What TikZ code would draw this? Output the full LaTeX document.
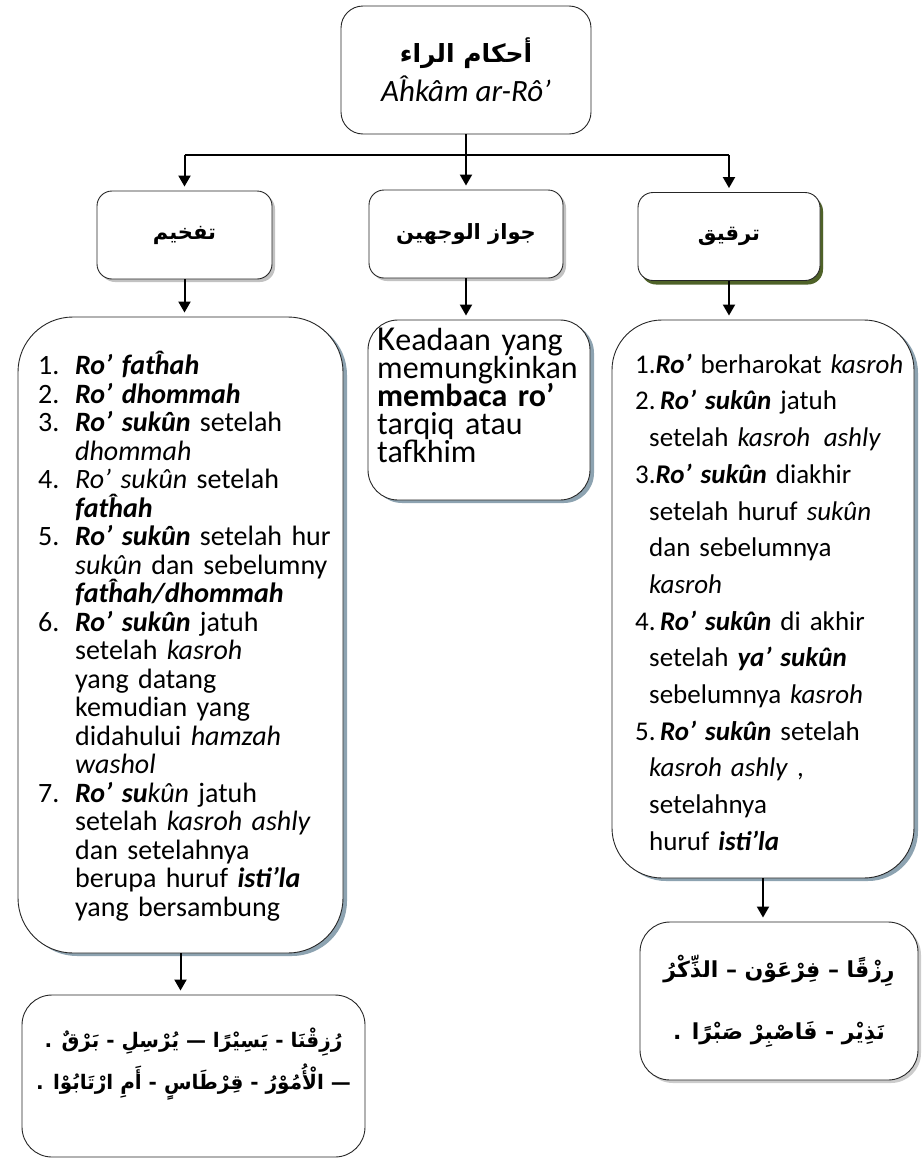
\documentclass[tikz,border=0pt]{standalone}
\usepackage{fontspec}
\setmainfont{Carlito}
\newfontfamily\arabicfont[Script=Arabic]{DejaVu Sans}
\usetikzlibrary{arrows.meta,shadows,calc}
\TeXXeTstate=1

\definecolor{slate}{HTML}{8DA3B1}
\definecolor{shadowgreen}{HTML}{4F6228}
\newcommand\arword[1]{\beginR#1\endR}
\newcommand\rosk{\textbf{\textit{Ro’ sukûn}}}
\newcommand\setfont[2]{\fontsize{#1}{#2}\selectfont\lineskiplimit=-100pt\relax}

\tikzset{
  flowbox/.style={draw=black!85, line width=0.9pt, fill=white},
  catbox/.style={flowbox, rounded corners=15pt, minimum width=#1, minimum height=88pt,
    drop shadow={shadow xshift=3pt, shadow yshift=-3pt, fill=black!40, opacity=0.6},
    font=\arabicfont\bfseries\fontsize{21}{25}\selectfont},
  listbox/.style={flowbox, drop shadow={shadow xshift=4pt, shadow yshift=-3pt, fill=slate, opacity=1}},
  listtext/.style={anchor=north west, inner sep=0pt, align=left, text width=#1},
  arabtext/.style={inner sep=0pt, align=center, font=\arabicfont\bfseries\fontsize{#1}{#1}\selectfont},
  flowarrow/.style={line width=2pt, -{Triangle[width=12pt,length=11pt]}, shorten >=4pt},
}

\begin{document}
\begin{tikzpicture}[x=1pt,y=-1pt]
\useasboundingbox (0,0) rectangle (922,1162);

% top
\node[flowbox, rounded corners=22pt, minimum width=250pt, minimum height=128pt, align=center] (title) at (466,70)
  {{\arabicfont\bfseries\fontsize{25}{30}\selectfont\beginR أحكام الراء\endR}\\[6pt]
   {\fontsize{31}{36}\selectfont\textit{Aĥkâm} \textit{ar-Rô’}}};
\coordinate (trunk) at (466,155);

% categories
\node[catbox=175pt] (tafkhim) at (184.5,235) {\arword{تفخيم}};
\node[catbox=194pt] (jawaz) at (466,234) {\beginR جواز الوجهين\endR};
\node[catbox=182pt, drop shadow={shadow xshift=3pt, shadow yshift=-4pt, fill=shadowgreen, opacity=1}] (tarqiq) at (729,236.5) {\arword{ترقيق}};

\draw[line width=2pt] (title.south) -- (trunk);
\draw[line width=2pt] (tafkhim.north |- trunk) -- (tarqiq.north |- trunk);
\draw[flowarrow] (tafkhim.north |- trunk) -- (tafkhim.north);
\draw[flowarrow] (trunk) -- (jawaz.north);
\draw[flowarrow] (tarqiq.north |- trunk) -- (tarqiq.north);

% lists
\node[listbox, rounded corners=55pt, minimum width=325pt, minimum height=636pt] (taflist) at (180.5,635) {};
\node[listbox, rounded corners=30pt, minimum width=222pt, minimum height=180pt] (jawazlist) at (479,410) {};
\node[listbox, rounded corners=50pt, minimum width=302pt, minimum height=558pt] (tarlist) at (763,599) {};

\draw[flowarrow] (tafkhim.south) -- (tafkhim.south |- taflist.north);
\draw[flowarrow] (jawaz.south) -- (jawaz.south |- jawazlist.north);
\draw[flowarrow] (tarqiq.south) -- (tarqiq.south |- tarlist.north);

\node[listtext=320pt, font=\setfont{28}{28.5}] (taftext) at (38,351) {%
  \rule{0pt}{22pt}\makebox[37pt][l]{1.}\textbf{\textit{Ro’ fatĥah}}\\
  \makebox[37pt][l]{2.}\textbf{\textit{Ro’ dhommah}}\\
  \makebox[37pt][l]{3.}\rosk{} setelah\\
  \hspace*{37pt}\textit{dhommah}\\
  \makebox[37pt][l]{4.}\textit{Ro' sukûn} setelah\\
  \hspace*{37pt}\textbf{\textit{fatĥah}}\\
  \makebox[37pt][l]{5.}\rosk{} setelah hur\\
  \hspace*{37pt}\textit{sukûn} dan sebelumny\\
  \hspace*{37pt}\textbf{\textit{fatĥah/dhommah}}\\
  \makebox[37pt][l]{6.}\rosk{} jatuh\\
  \hspace*{37pt}setelah \textit{kasroh}\\
  \hspace*{37pt}yang datang\\
  \hspace*{37pt}kemudian yang\\
  \hspace*{37pt}didahului \textit{hamzah}\\
  \hspace*{37pt}\textit{washol}\\
  \makebox[37pt][l]{7.}\textbf{\textit{Ro’ su}}\textit{kûn} jatuh\\
  \hspace*{37pt}setelah \textit{kasroh ashly}\\
  \hspace*{37pt}dan setelahnya\\
  \hspace*{37pt}berupa huruf \textbf{\textit{isti’la}}\\
  \hspace*{37pt}yang bersambung};

\node[listtext=240pt, font=\setfont{32}{28}] (jawaztext) at (377,327) {%
  \rule{0pt}{23pt}{\fontsize{35}{28}\selectfont K}eadaan yang\\
  memungkinkan\\
  \textbf{membaca ro’}\\
  tarqiq atau\\
  tafkhim};

\node[listtext=300pt, font=\setfont{27}{36.7}] (tartext) at (635,351) {%
  \rule{0pt}{22pt}1.\textbf{\textit{Ro’}} berharokat \textit{kasroh}\\
  2.\,\rosk{} jatuh\\
  \hspace*{14pt}setelah \textit{kasroh\enspace ashly}\\
  3.\rosk{} diakhir\\
  \hspace*{14pt}setelah huruf \textit{sukûn}\\
  \hspace*{14pt}dan sebelumnya\\
  \hspace*{14pt}\textit{kasroh}\\
  4.\,\rosk{} di akhir\\
  \hspace*{14pt}setelah \textbf{\textit{ya’ sukûn}}\\
  \hspace*{14pt}sebelumnya \textit{kasroh}\\
  5.\,\rosk{} setelah\\
  \hspace*{14pt}\textit{kasroh ashly} ,\\
  \hspace*{14pt}setelahnya\\
  \hspace*{14pt}huruf \textbf{\textit{isti’la}}};

% examples
\node[flowbox, rounded corners=30pt, minimum width=343pt, minimum height=162pt] (botleft) at (193.5,1076) {};
\node[flowbox, rounded corners=30pt, minimum width=278pt, minimum height=158pt,
  drop shadow={shadow xshift=3pt, shadow yshift=-3pt, fill=black!40, opacity=0.5}] (botright) at (779,1001) {};

\draw[flowarrow] (taflist.south) -- (taflist.south |- botleft.north);
\draw[flowarrow] (tarlist.south) -- (tarlist.south |- botright.north);

\node[arabtext=20] (botlefttext) at ($(botleft.center)+(0,-12)$) {%
  . \arword{بَرْقٌ} - \arword{يُرْسِلِ} — \arword{يَسِيْرًا} - \arword{رُزِقْنَا}\\[6pt]
  . \arword{ارْتَابُوْا} \arword{أَمِ} - \arword{قِرْطَاسٍ} - \arword{الْأُمُوْرُ} —};
\node[arabtext=22] (botrighttext) at (botright.center) {%
  \arword{الذِّكْرُ} – \arword{فِرْعَوْن} – \arword{رِزْقًا}\\[34pt]
  . \arword{صَبْرًا} \arword{فَاصْبِرْ} - \arword{نَذِيْر}};
\end{tikzpicture}
\end{document}
